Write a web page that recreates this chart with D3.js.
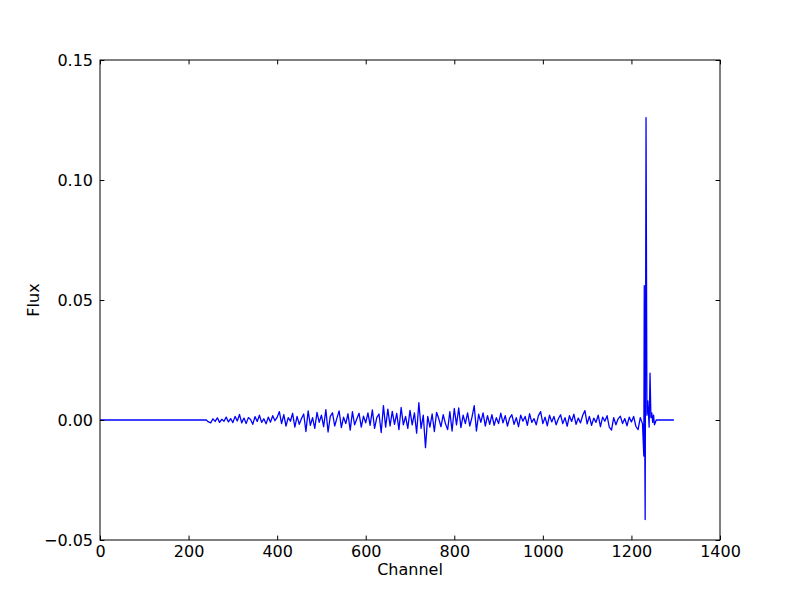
<!DOCTYPE html>
<html><head><meta charset="utf-8">
<script src="https://cdn.jsdelivr.net/npm/d3@7"></script>
<style>body{margin:0;background:#fff}svg{display:block}text{font-family:"DejaVu Sans",sans-serif}</style>
</head><body>
<svg id="c" width="800" height="600"></svg>
<script>
// ---- data (flux values in units of 1e-3) ----
const xTicks = [0, 200, 400, 600, 800, 1000, 1200, 1400];
const yTicks = [-0.05, 0.00, 0.05, 0.10, 0.15];
const leadChannels = [0, 235];
const leadFlux = [0, 0];
const noiseStartChannel = 240, noiseStep = 5;
const noiseFlux = [
  0, -0.8, -1.2, 0.5, -0.6, 0.9, -1.0, 0.3, -0.5, 1.2, -0.8, 0.6, -1.1,
  1.5, -0.4, 2.3, -1.2, 0.8, -1.5, 1.0, 0.2, -1.8, 1.4, -0.6, 2.0, -1.0, 0.5, -1.6, 1.2, -0.9, 1.8, -0.3, 1.1,
  3.5, -1.5, 2.2, -2.5, 1.0, -0.5, 2.8, -3.0, 1.5, -1.8, 0.6, 2.5, -4.8, 3.8, -2.2, 1.0, -3.5, 3.2, -1.0, 2.0,
  -2.8, 4.3, -5.0, 1.5, 3.0, -2.5, 0.8, 3.8, -3.2, 1.2, -1.5, 2.6, -4.2, 3.5, -2.0, 0.5, 2.8, -3.0, 1.6, -1.2,
  3.0, -2.2, 4.2, -3.5, 1.0, 2.5, -5.2, 6.0, -3.0, 4.5, -2.5, 3.6, -1.8, 2.8, -4.0, 5.2, -2.0, 1.5, -3.5, 4.0,
  -2.0, 3.0, -5.5, 7.2, -3.5, 2.0, -11.5, 1.5, -3.0, 2.5, -4.8, 3.2, 0.5, -2.8, 2.2, -1.5, -4.0, 3.5, -4.6, 4.8,
  -2.0, 5.0, -3.2, 2.0, -1.5, 3.0, -2.5, 1.2, 6.0, -4.6, 2.4, -1.0, 3.0, -2.5, 1.8, -1.8, 2.2, -2.2, 1.0, -1.5,
  2.9, -1.2, 1.8, -2.5, 0.8, 2.2, -1.8, 1.0, -2.8, 2.0, -0.5, 1.5, -2.2, 2.6, -1.0, 0.6, -2.0, 1.8, 3.5, -1.5,
  1.2, -2.4, 2.0, -0.8, 1.5, -2.0, 0.5, 2.2, -1.5, 1.0, -2.6, 1.8, -0.6, 2.4, -1.8, 0.8, -1.2, 2.0, 3.9, -1.6,
  1.5, -2.2, 0.8, -1.0, 2.0, -2.8, 1.2, -0.5, 1.8, -3.0, -4.2, 1.0, -2.0, 0.5, 1.6, -1.5, 0.6, -2.4, 1.2, -0.8,
  1.5, -2.6, -4.0, 1.0, -1.5
];
const spikeChannels = [1228, 1229, 1230, 1231, 1233, 1235, 1237, 1240, 1242, 1244, 1246, 1248, 1250, 1252, 1254, 1256, 1296];
const spikeFlux =     [-15, 56, -4, -41.5, 126, 2, 8, -3, 19.5, 1, 3, -1, 2, -2, -1, 0, 0];

// ---- build series ----
const series = [];
leadChannels.forEach((c, i) => series.push({c, f: leadFlux[i] / 1000}));
noiseFlux.forEach((v, i) => series.push({c: noiseStartChannel + i * noiseStep, f: v / 1000}));
spikeChannels.forEach((c, i) => series.push({c, f: spikeFlux[i] / 1000}));

const svg = d3.select("#c");
const L = 100, R = 720, T = 60, B = 540;
const x = d3.scaleLinear().domain([0, 1400]).range([L, R]);
const y = d3.scaleLinear().domain([-0.05, 0.15]).range([B, T]);

svg.append("rect").attr("x", 0).attr("y", 0).attr("width", 800).attr("height", 600).attr("fill", "#fff");

svg.append("path").datum(series)
  .attr("d", d3.line().x(d => x(d.c)).y(d => y(d.f)))
  .attr("fill", "none").attr("stroke", "#0000ff").attr("stroke-width", 1.3).attr("stroke-linejoin", "round");

const tl = 4.4, fs = "16px";
const minus = s => s.replace("-", "\u2212");
const xf = d3.format("d"), yf = d3.format(".2f");

const gxb = svg.append("g").attr("transform", `translate(0,${B})`)
  .call(d3.axisBottom(x).tickValues(xTicks).tickSize(-tl).tickPadding(6).tickFormat(d => minus(xf(d))));
const gxt = svg.append("g").attr("transform", `translate(0,${T})`)
  .call(d3.axisTop(x).tickValues(xTicks).tickSize(-tl).tickFormat(""));
const gyl = svg.append("g").attr("transform", `translate(${L},0)`)
  .call(d3.axisLeft(y).tickValues(yTicks).tickSize(-tl).tickPadding(7).tickFormat(d => minus(yf(d))));
const gyr = svg.append("g").attr("transform", `translate(${R},0)`)
  .call(d3.axisRight(y).tickValues(yTicks).tickSize(-tl).tickFormat(""));
[gxb, gxt, gyl, gyr].forEach(g => {
  g.select(".domain").remove();
  g.selectAll("line").attr("stroke", "#000").attr("stroke-width", 1);
  g.selectAll("text").attr("fill", "#000").style("font-size", fs).style("font-family", '"DejaVu Sans", sans-serif');
});

svg.append("rect").attr("x", L).attr("y", T).attr("width", R - L).attr("height", B - T)
  .attr("fill", "none").attr("stroke", "#000").attr("stroke-width", 1);

svg.append("text").attr("x", (L + R) / 2).attr("y", 575).attr("text-anchor", "middle")
  .style("font-size", fs).text("Channel");
svg.append("text").attr("transform", `translate(39,${(T + B) / 2}) rotate(-90)`).attr("text-anchor", "middle")
  .style("font-size", fs).text("Flux");
</script>
</body></html>
